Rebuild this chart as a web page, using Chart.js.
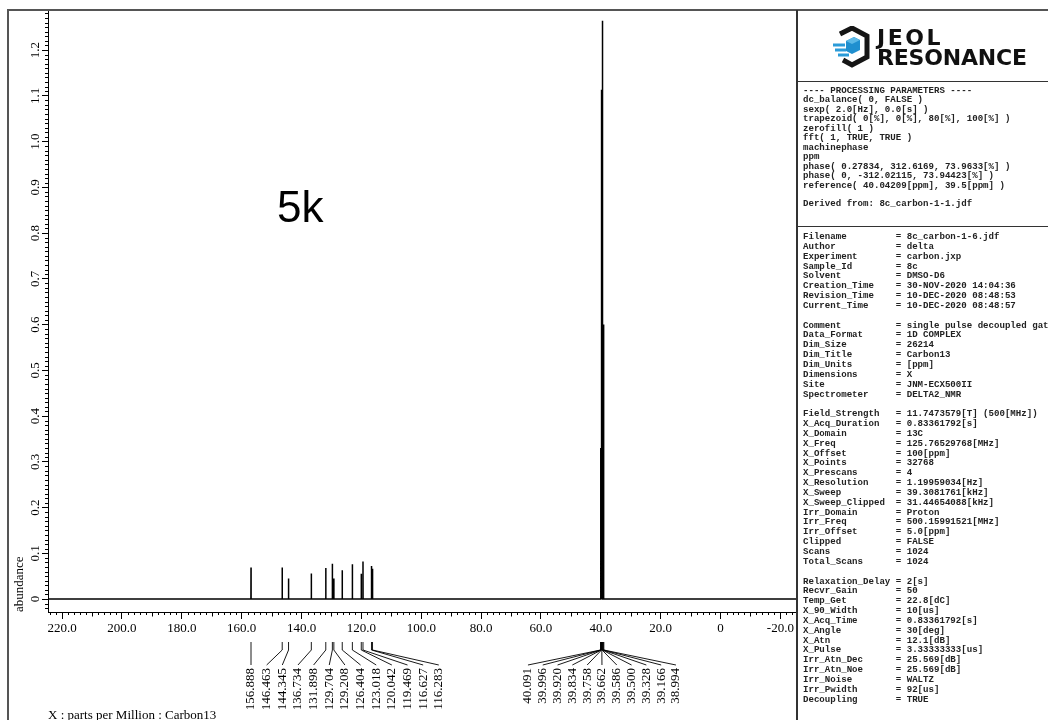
<!DOCTYPE html>
<html>
<head>
<meta charset="utf-8">
<script src="https://cdn.jsdelivr.net/npm/chart.js@4.4.0/dist/chart.umd.min.js"></script>
<style>
  html, body { margin: 0; padding: 0; background: #fff; }
  #wrap { position: relative; width: 1048px; height: 720px; overflow: hidden; background: #fff; }
  #spec { position: absolute; left: 0; top: 0; }
  #panel { position: absolute; left: 796px; top: 10px; width: 270px; height: 720px;
           border-left: 2px solid #333; overflow: hidden; }
  .rule { position: absolute; left: 0; width: 270px; height: 0; border-top: 1.5px solid #333; }
  .params { position: absolute; left: 5px; margin: 0; font-family: "Liberation Mono", "DejaVu Sans Mono", monospace;
            font-size: 9.1px; font-weight: bold; color: #222; white-space: pre; }
  #logo { position: absolute; left: 33px; top: 15px; width: 210px; height: 45px; }
  #logo svg { position: absolute; left: 0; top: 1px; }
  .brand { position: absolute; left: 46px; font-family: "DejaVu Sans", sans-serif; font-weight: bold;
           color: #111; font-size: 22px; line-height: 22px; }
</style>
</head>
<body>
<div id="wrap">
  <canvas id="spec" width="1048" height="720"></canvas>
  <div id="panel">
    <div id="logo">
      <svg width="40" height="42" viewBox="0 0 40 42">
        <path d="M9 8 L21 2 L36 10 L36 31 L21 39 L12 34" fill="none" stroke="#151515" stroke-width="5" stroke-linejoin="miter"/>
        <path d="M15 15 L23 11 L29 14 L29 24 L21 28 L15 25 Z" fill="#1f8fcf"/>
        <path d="M23 11 L29 14 L21 18 L15 15 Z" fill="#5bb8e6"/>
        <path d="M2 19 L14 19" stroke="#2b9bd8" stroke-width="3"/>
        <path d="M4 24 L15 24" stroke="#2b9bd8" stroke-width="3"/>
        <path d="M7 29 L18 29" stroke="#2b9bd8" stroke-width="3"/>
      </svg>
      <div class="brand" style="top:2px; letter-spacing:2.5px;">JEOL</div>
      <div class="brand" style="top:22px; letter-spacing:-0.2px;">RESONANCE</div>
    </div>
    <div class="rule" style="top:71px;"></div>
    <pre class="params" id="procBlock" style="top:76px; line-height:9.45px;"></pre>
    <div class="rule" style="top:216px;"></div>
    <pre class="params" id="infoBlock" style="top:222px; line-height:9.84px;"></pre>
  </div>
</div>
<script>
// 13C peak list (ppm) with peak heights in abundance units
const peakPpm = [156.888, 146.463, 144.345, 136.734, 131.898, 129.704, 129.208,
                 126.404, 123.018, 120.042, 119.469, 116.627, 116.283];
const peakHeight = [0.069, 0.069, 0.045, 0.056, 0.068, 0.077, 0.045,
                    0.063, 0.076, 0.055, 0.082, 0.072, 0.066];

// DMSO-d6 solvent multiplet
const solventPpm = [40.091, 39.996, 39.920, 39.834, 39.758, 39.662,
                    39.586, 39.500, 39.328, 39.166, 38.994];
const solventHeight = [0.05, 0.33, 0.05, 0.64, 0.05, 1.113,
                       0.05, 1.264, 1.09, 0.60, 0.30];

// axis ticks
const xTicks = [220, 200, 180, 160, 140, 120, 100, 80, 60, 40, 20, 0, -20];
const yTicks = [0, 0.1, 0.2, 0.3, 0.4, 0.5, 0.6, 0.7, 0.8, 0.9, 1.0, 1.1, 1.2];
const xRange = [-25.55, 224.72];
const yRange = [-0.0284, 1.2853];

// acquisition / processing parameter text
const procLines = [
  "---- PROCESSING PARAMETERS ----",
  "dc_balance( 0, FALSE )",
  "sexp( 2.0[Hz], 0.0[s] )",
  "trapezoid( 0[%], 0[%], 80[%], 100[%] )",
  "zerofill( 1 )",
  "fft( 1, TRUE, TRUE )",
  "machinephase",
  "ppm",
  "phase( 0.27834, 312.6169, 73.9633[%] )",
  "phase( 0, -312.02115, 73.94423[%] )",
  "reference( 40.04209[ppm], 39.5[ppm] )",
  "",
  "Derived from: 8c_carbon-1-1.jdf"
];
const infoRows = [
  ["Filename", "8c_carbon-1-6.jdf"],
  ["Author", "delta"],
  ["Experiment", "carbon.jxp"],
  ["Sample_Id", "8c"],
  ["Solvent", "DMSO-D6"],
  ["Creation_Time", "30-NOV-2020 14:04:36"],
  ["Revision_Time", "10-DEC-2020 08:48:53"],
  ["Current_Time", "10-DEC-2020 08:48:57"],
  null,
  ["Comment", "single pulse decoupled gated NOE"],
  ["Data_Format", "1D COMPLEX"],
  ["Dim_Size", "26214"],
  ["Dim_Title", "Carbon13"],
  ["Dim_Units", "[ppm]"],
  ["Dimensions", "X"],
  ["Site", "JNM-ECX500II"],
  ["Spectrometer", "DELTA2_NMR"],
  null,
  ["Field_Strength", "11.7473579[T] (500[MHz])"],
  ["X_Acq_Duration", "0.83361792[s]"],
  ["X_Domain", "13C"],
  ["X_Freq", "125.76529768[MHz]"],
  ["X_Offset", "100[ppm]"],
  ["X_Points", "32768"],
  ["X_Prescans", "4"],
  ["X_Resolution", "1.19959034[Hz]"],
  ["X_Sweep", "39.3081761[kHz]"],
  ["X_Sweep_Clipped", "31.44654088[kHz]"],
  ["Irr_Domain", "Proton"],
  ["Irr_Freq", "500.15991521[MHz]"],
  ["Irr_Offset", "5.0[ppm]"],
  ["Clipped", "FALSE"],
  ["Scans", "1024"],
  ["Total_Scans", "1024"],
  null,
  ["Relaxation_Delay", "2[s]"],
  ["Recvr_Gain", "50"],
  ["Temp_Get", "22.8[dC]"],
  ["X_90_Width", "10[us]"],
  ["X_Acq_Time", "0.83361792[s]"],
  ["X_Angle", "30[deg]"],
  ["X_Atn", "12.1[dB]"],
  ["X_Pulse", "3.33333333[us]"],
  ["Irr_Atn_Dec", "25.569[dB]"],
  ["Irr_Atn_Noe", "25.569[dB]"],
  ["Irr_Noise", "WALTZ"],
  ["Irr_Pwidth", "92[us]"],
  ["Decoupling", "TRUE"]
];

document.getElementById('procBlock').textContent = procLines.join('\n');
document.getElementById('infoBlock').textContent = infoRows
  .map(r => r ? (r[0] + ' ').padEnd(17, ' ') + '= ' + r[1] : '')
  .join('\n');

// stick spectrum: each peak is a narrow triangle rising from the baseline
const allPeaks = peakPpm.map((p, i) => ({ p, h: peakHeight[i] }))
  .concat(solventPpm.map((p, i) => ({ p, h: solventHeight[i] })))
  .sort((a, b) => b.p - a.p);
const spectrum = [{ x: xRange[1], y: 0 }];
allPeaks.forEach(({ p, h }) => {
  spectrum.push({ x: p + 0.03, y: 0 }, { x: p, y: h }, { x: p - 0.03, y: 0 });
});
spectrum.push({ x: xRange[0], y: 0 });

const serif = '"Liberation Serif", "Times New Roman", serif';
const fmtTick = v => (v === 0 ? '0' : v.toFixed(1));

// peak-pick annotations drawn under the ppm axis
const labelGroups = [
  { ppm: peakPpm, align: 'start', spacing: 15.65 },
  { ppm: solventPpm, align: 'center', spacing: 14.8 }
];

const annotations = {
  id: 'annotations',
  beforeDraw(chart) {
    const ctx = chart.ctx;
    ctx.save();
    ctx.fillStyle = '#fff';
    ctx.fillRect(0, 0, chart.width, chart.height);
    // outer frame
    ctx.strokeStyle = '#555';
    ctx.lineWidth = 2;
    ctx.beginPath();
    ctx.moveTo(1050, 10);
    ctx.lineTo(8, 10);
    ctx.lineTo(8, 722);
    ctx.stroke();
    ctx.restore();
  },
  afterDraw(chart) {
    const { ctx, scales: { x, y } } = chart;
    ctx.save();
    ctx.strokeStyle = '#000';
    ctx.lineWidth = 1;

    // minor ticks on the ppm axis (every 2 ppm, longer every 10)
    ctx.beginPath();
    for (let i = Math.ceil(x.min / 2); i <= Math.floor(x.max / 2); i++) {
      const v = i * 2;
      if (v % 20 === 0) continue;
      const px = Math.round(x.getPixelForValue(v)) + 0.5;
      const len = v % 10 === 0 ? 4.5 : 3;
      ctx.moveTo(px, x.top);
      ctx.lineTo(px, x.top + len);
    }
    // minor ticks on the abundance axis (every 0.01)
    for (let i = Math.ceil(y.min * 100); i <= Math.floor(y.max * 100); i++) {
      if (i % 10 === 0) continue;
      const py = Math.round(y.getPixelForValue(i / 100)) + 0.5;
      ctx.moveTo(y.right, py);
      ctx.lineTo(y.right - 3, py);
    }
    ctx.stroke();

    // peak labels with leader lines
    ctx.fillStyle = '#000';
    ctx.font = '13px ' + serif;
    ctx.lineWidth = 0.9;
    const yTop = x.top + 30, yKnee = x.top + 38, yFoot = x.top + 53, yText = x.top + 56;
    labelGroups.forEach(g => {
      const xs = g.ppm.map(p => x.getPixelForValue(p));
      const n = xs.length;
      const mean = xs.reduce((a, b) => a + b, 0) / n;
      const start = g.align === 'start' ? xs[0] : mean - (n - 1) / 2 * g.spacing;
      ctx.beginPath();
      xs.forEach((px, i) => {
        const lx = start + i * g.spacing;
        ctx.moveTo(px, yTop);
        ctx.lineTo(px, yKnee);
        ctx.lineTo(lx, yFoot);
      });
      ctx.stroke();
      g.ppm.forEach((p, i) => {
        const lx = start + i * g.spacing;
        ctx.save();
        ctx.translate(lx, yText);
        ctx.rotate(-Math.PI / 2);
        ctx.textAlign = 'right';
        ctx.textBaseline = 'middle';
        ctx.fillText(p.toFixed(3), 0, 0);
        ctx.restore();
      });
    });

    // axis caption
    ctx.textAlign = 'left';
    ctx.textBaseline = 'alphabetic';
    ctx.font = '13px ' + serif;
    ctx.fillText('X : parts per Million : Carbon13', 48, 719);

    // sample note
    ctx.font = '44px "Liberation Sans", Arial, sans-serif';
    ctx.fillText('5k', 277, 222);
    ctx.restore();
  }
};

new Chart(document.getElementById('spec'), {
  type: 'line',
  data: {
    datasets: [{
      data: spectrum,
      borderColor: '#000',
      borderWidth: 1.5,
      pointRadius: 0,
      tension: 0,
      fill: false
    }]
  },
  options: {
    responsive: false,
    animation: false,
    devicePixelRatio: 1,
    parsing: false,
    layout: { padding: { left: 8, top: 11, right: 251, bottom: 0 } },
    plugins: { legend: { display: false }, tooltip: { enabled: false } },
    scales: {
      x: {
        type: 'linear',
        reverse: true,
        min: xRange[0],
        max: xRange[1],
        afterBuildTicks: s => { s.ticks = xTicks.map(v => ({ value: v })); },
        afterFit: s => { s.height = 108; },
        ticks: { callback: fmtTick, autoSkip: false, maxRotation: 0, padding: 2,
                 color: '#000', font: { family: serif, size: 13 } },
        grid: { drawOnChartArea: false, tickLength: 7, color: '#000', tickColor: '#000' },
        border: { color: '#000', width: 1 }
      },
      y: {
        type: 'linear',
        min: yRange[0],
        max: yRange[1],
        afterBuildTicks: s => { s.ticks = yTicks.map(v => ({ value: v })); },
        afterFit: s => { s.width = 40; },
        ticks: { callback: fmtTick, autoSkip: false, minRotation: 90, maxRotation: 90,
                 crossAlign: 'center', padding: -2,
                 color: '#000', font: { family: serif, size: 13 } },
        grid: { drawOnChartArea: false, tickLength: 6, color: '#000', tickColor: '#000' },
        border: { color: '#000', width: 1 },
        title: { display: true, text: 'abundance', align: 'start', color: '#000',
                 padding: { top: 4, bottom: 0 }, font: { family: serif, size: 13 } }
      }
    }
  },
  plugins: [annotations]
});
</script>
</body>
</html>
